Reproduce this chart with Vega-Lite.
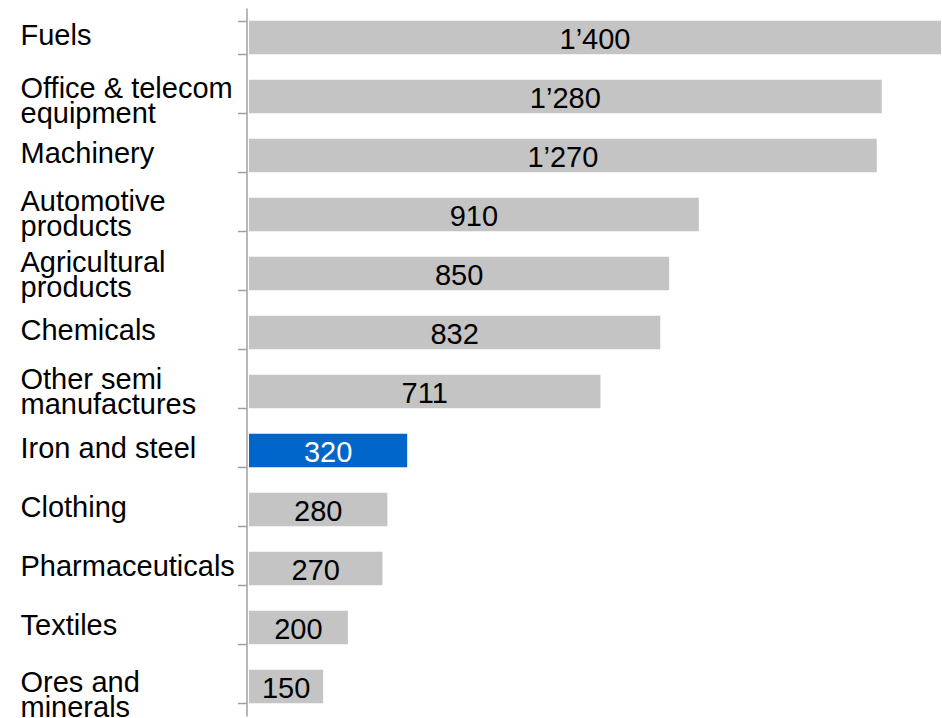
{
  "$schema": "https://vega.github.io/schema/vega-lite/v6.json",
  "width": 692,
  "height": 708,
  "autosize": {"type": "none"},
  "padding": {"left": 249, "top": 8, "right": 1, "bottom": 2},
  "background": "white",
  "config": {"view": {"stroke": null}, "font": "Liberation Sans"},
  "data": {
    "values": [
      {"category": "Fuels", "value": 1400, "label": "1’400", "highlight": false},
      {"category": "Office & telecom|equipment", "value": 1280, "label": "1’280", "highlight": false},
      {"category": "Machinery", "value": 1270, "label": "1’270", "highlight": false},
      {"category": "Automotive|products", "value": 910, "label": "910", "highlight": false},
      {"category": "Agricultural|products", "value": 850, "label": "850", "highlight": false},
      {"category": "Chemicals", "value": 832, "label": "832", "highlight": false},
      {"category": "Other semi|manufactures", "value": 711, "label": "711", "highlight": false},
      {"category": "Iron and steel", "value": 320, "label": "320", "highlight": true},
      {"category": "Clothing", "value": 280, "label": "280", "highlight": false},
      {"category": "Pharmaceuticals", "value": 270, "label": "270", "highlight": false},
      {"category": "Textiles", "value": 200, "label": "200", "highlight": false},
      {"category": "Ores and|minerals", "value": 150, "label": "150", "highlight": false}
    ]
  },
  "transform": [{"calculate": "datum.value / 2", "as": "mid"}],
  "encoding": {
    "y": {
      "field": "category",
      "type": "nominal",
      "sort": null,
      "scale": {"paddingInner": 0.435, "paddingOuter": 0.2175},
      "axis": {
        "title": null,
        "offset": 2.5,
        "domainColor": "#a0a0a0",
        "domainWidth": 1.5,
        "tickColor": "#a0a0a0",
        "tickWidth": 1.5,
        "tickSize": 9,
        "tickBand": "extent",
        "labelAlign": "left",
        "labelBaseline": "middle",
        "labelPadding": 217.5,
        "labelLimit": 0,
        "labelFontSize": 29,
        "labelColor": "black",
        "labelLineHeight": 25,
        "labelOffset": {
          "condition": [
            {"test": "datum.value == 'Office & telecom|equipment'", "value": -8},
            {"test": "datum.value == 'Automotive|products'", "value": -13},
            {"test": "datum.value == 'Agricultural|products'", "value": -11},
            {"test": "datum.value == 'Other semi|manufactures'", "value": -12},
            {"test": "datum.value == 'Ores and|minerals'", "value": -4}
          ],
          "value": -2
        },
        "labelExpr": "split(datum.label, '|')"
      }
    }
  },
  "layer": [
    {
      "mark": {"type": "bar"},
      "encoding": {
        "x": {
          "field": "value",
          "type": "quantitative",
          "scale": {"domain": [0, 1400], "nice": false, "zero": true},
          "axis": null
        },
        "color": {
          "field": "highlight",
          "type": "nominal",
          "scale": {"domain": [false, true], "range": ["#c4c4c4", "#0066cc"]},
          "legend": null
        }
      }
    },
    {
      "mark": {"type": "text", "align": "center", "baseline": "middle", "fontSize": 29, "dy": 2},
      "encoding": {
        "x": {"field": "mid", "type": "quantitative"},
        "text": {"field": "label"},
        "color": {
          "field": "highlight",
          "type": "nominal",
          "scale": {"domain": [false, true], "range": ["black", "white"]},
          "legend": null
        }
      }
    }
  ],
  "resolve": {"scale": {"color": "independent"}}
}
